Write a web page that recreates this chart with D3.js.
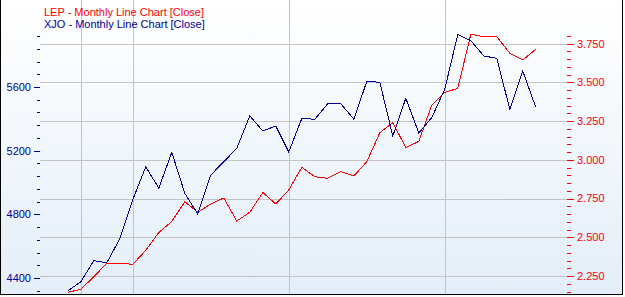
<!DOCTYPE html>
<html><head><meta charset="utf-8">
<script src="https://cdn.jsdelivr.net/npm/d3@7"></script>
<style>
html,body{margin:0;padding:0;background:#fff;}
svg{display:block;font-family:"Liberation Sans",Arial,sans-serif;}
</style></head>
<body>
<svg id="c" width="625" height="297"></svg>
<script>
// ---- data ----
const months = d3.range(37); // monthly index
const lepClose = [2.145,2.164,2.246,2.332,2.332,2.326,2.416,2.531,2.602,2.730,2.662,2.715,2.754,2.605,2.662,2.789,2.715,2.806,2.952,2.891,2.881,2.924,2.896,2.988,3.175,3.240,3.079,3.119,3.354,3.435,3.462,3.811,3.795,3.795,3.688,3.645,3.714];
const xjoClose = [4319,4377,4509,4496,4647,4893,5099,4964,5190,4932,4802,5047,5131,5215,5419,5324,5355,5192,5403,5397,5495,5495,5398,5635,5630,5292,5529,5311,5408,5587,5931,5891,5795,5780,5460,5700,5472];
const gridMonths = [1,5,17,29];
const leftTickLabels = [4400,4800,5200,5600];
const leftMinorTicks = d3.range(4320,5921,80);
const rightTickLabels = [2.25,2.5,2.75,3.0,3.25,3.5,3.75];
const rightMinorTicks = d3.range(2.15,3.8001,0.05);
const legendItems = [
  {text:"LEP - Monthly Line Chart [Close]", color:"#ff0000"},
  {text:"XJO - Monthly Line Chart [Close]", color:"#000099"}
];

const svg = d3.select("#c");
const L = 40, R = 567, T = 0, B = 294;

const defs = svg.append("defs");
const g = defs.append("linearGradient").attr("id","bg").attr("x1",0).attr("y1",0).attr("x2",0).attr("y2",1);
g.append("stop").attr("offset","0%").attr("stop-color","#ffffff");
g.append("stop").attr("offset","100%").attr("stop-color","#e4eef8");

svg.append("rect").attr("x",0).attr("y",0).attr("width",623).attr("height",295).attr("fill","url(#bg)");

const x = d3.scaleLinear().domain([0,36]).range([67.8,535.8]);
const yL = d3.scaleLinear().domain([4299.8,6146.5]).range([B,T]);
const yR = d3.scaleLinear().domain([2.134,4.032]).range([B,T]);

// horizontal gridlines
svg.append("g").selectAll("line").data(rightTickLabels).join("line")
  .attr("x1",L).attr("x2",R)
  .attr("y1",d=>Math.round(yR(d))+0.5).attr("y2",d=>Math.round(yR(d))+0.5)
  .attr("stroke","#c4c4c4").attr("stroke-width",1);
// vertical gridlines
svg.append("g").selectAll("line").data(gridMonths).join("line")
  .attr("x1",d=>Math.round(x(d))+0.5).attr("x2",d=>Math.round(x(d))+0.5)
  .attr("y1",0).attr("y2",B)
  .attr("stroke","#c4c4c4").attr("stroke-width",1);

// left axis
const leftAxis = svg.append("g").attr("transform",`translate(${L},0)`);
leftAxis.selectAll("line.minor").data(leftMinorTicks).join("line").attr("class","minor")
  .attr("x1",-3).attr("x2",0)
  .attr("y1",d=>Math.round(yL(d))+0.5).attr("y2",d=>Math.round(yL(d))+0.5)
  .attr("stroke","#000099");
leftAxis.selectAll("line.major").data(leftTickLabels).join("line").attr("class","major")
  .attr("x1",-6).attr("x2",0)
  .attr("y1",d=>Math.round(yL(d))+0.5).attr("y2",d=>Math.round(yL(d))+0.5)
  .attr("stroke","#000099");
leftAxis.selectAll("text").data(leftTickLabels).join("text")
  .attr("x",-9).attr("y",d=>yL(d)).attr("dy","0.35em")
  .attr("text-anchor","end").attr("font-size","11px").attr("fill","#000099")
  .text(d=>d3.format("d")(d));

// right axis
const rightAxis = svg.append("g").attr("transform",`translate(${R},0)`);
rightAxis.selectAll("line.minor").data(rightMinorTicks).join("line").attr("class","minor")
  .attr("x1",0).attr("x2",4)
  .attr("y1",d=>Math.round(yR(d))+0.5).attr("y2",d=>Math.round(yR(d))+0.5)
  .attr("stroke","#ff0000");
rightAxis.selectAll("line.major").data(rightTickLabels).join("line").attr("class","major")
  .attr("x1",0).attr("x2",7)
  .attr("y1",d=>Math.round(yR(d))+0.5).attr("y2",d=>Math.round(yR(d))+0.5)
  .attr("stroke","#ff0000");
rightAxis.selectAll("text").data(rightTickLabels).join("text")
  .attr("x",10).attr("y",d=>yR(d)).attr("dy","0.35em")
  .attr("text-anchor","start").attr("font-size","11px").attr("fill","#ff0000")
  .text(d=>d3.format(".3f")(d));

// lines
const lineR = d3.line().x((d,i)=>x(months[i])).y(d=>yR(d));
const lineL = d3.line().x((d,i)=>x(months[i])).y(d=>yL(d));
svg.append("path").datum(lepClose).attr("d",lineR).attr("fill","none")
  .attr("stroke","#ff0000").attr("stroke-width",1).attr("shape-rendering","crispEdges");
svg.append("path").datum(xjoClose).attr("d",lineL).attr("fill","none")
  .attr("stroke","#000099").attr("stroke-width",1).attr("shape-rendering","crispEdges");

// legend
svg.append("g").selectAll("text").data(legendItems).join("text")
  .attr("x",44).attr("y",(d,i)=>16+i*12)
  .attr("font-size","11px").attr("fill",d=>d.color)
  .text(d=>d.text);

// frame
svg.append("line").attr("x1",0.5).attr("x2",0.5).attr("y1",0).attr("y2",295).attr("stroke","#000");
svg.append("line").attr("x1",622.5).attr("x2",622.5).attr("y1",0).attr("y2",295).attr("stroke","#000");
svg.append("line").attr("x1",0).attr("x2",623).attr("y1",294.5).attr("y2",294.5).attr("stroke","#000");
</script>
</body></html>
